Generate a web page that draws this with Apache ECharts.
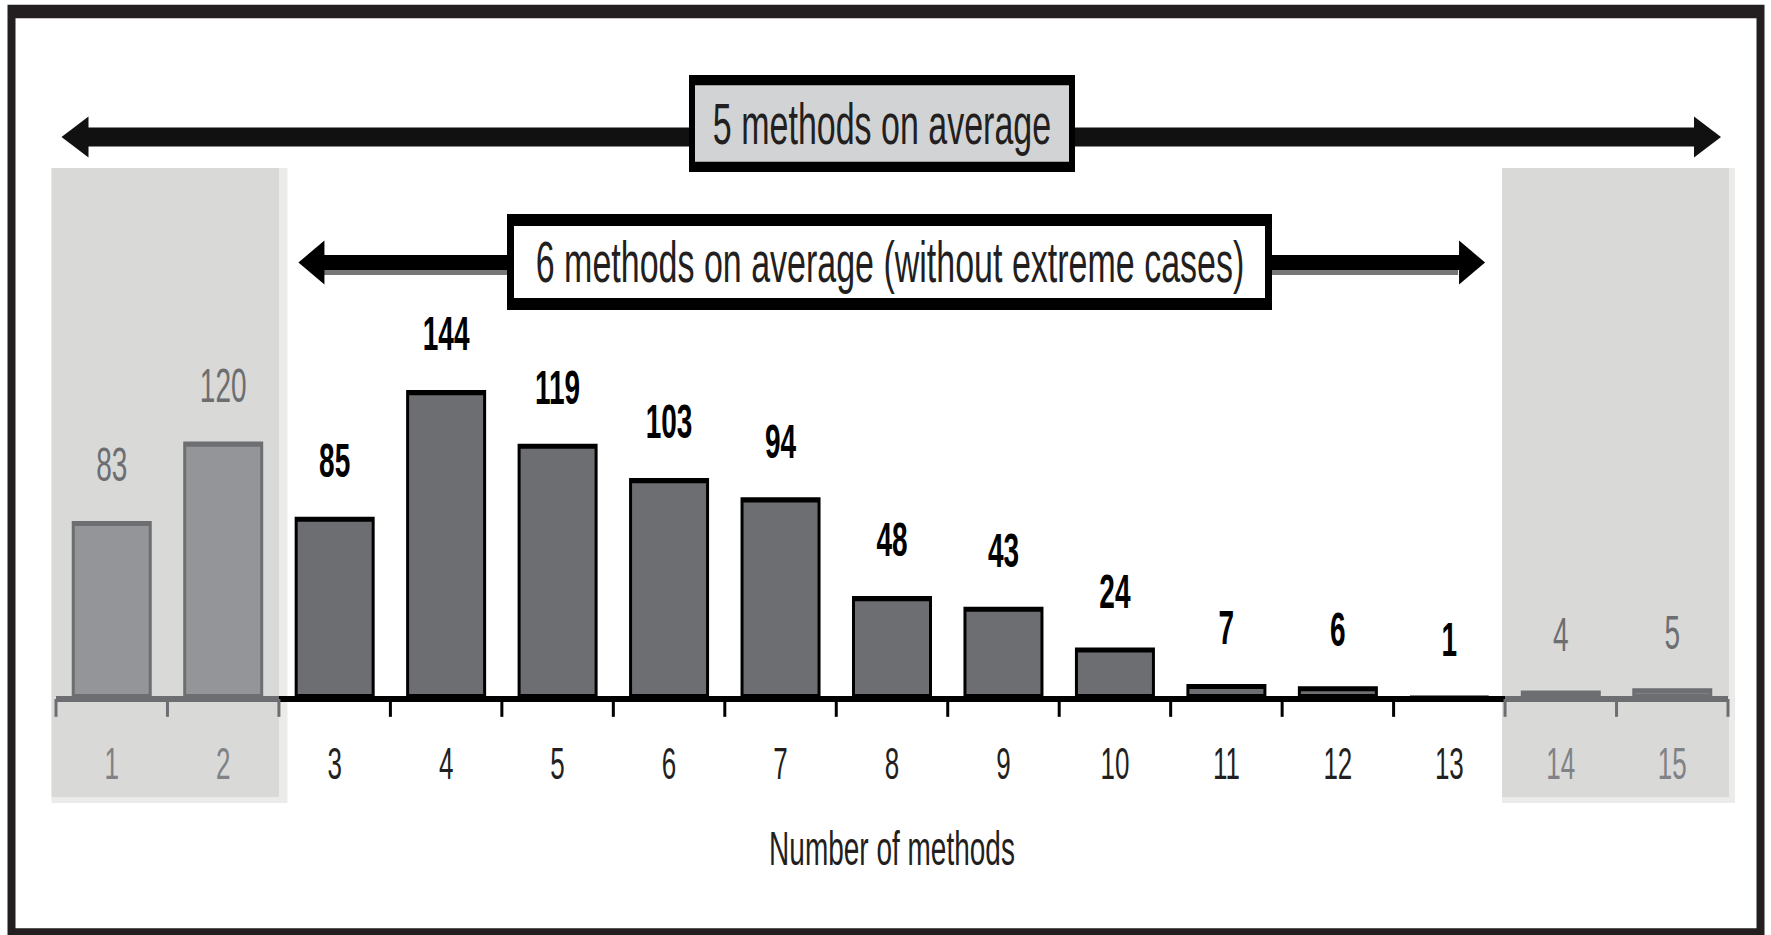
<!DOCTYPE html>
<html>
<head>
<meta charset="utf-8">
<script src="https://cdn.jsdelivr.net/npm/echarts@6/dist/echarts.min.js"></script>
<style>
html,body{margin:0;padding:0;background:#fff;overflow:hidden;}
#wrap{width:1771px;height:935px;overflow:hidden;position:relative;background:#fff;}
#chart{width:1771px;height:550px;transform:scaleY(1.7);transform-origin:0 0;}
</style>
</head>
<body>
<div id="wrap"><div id="chart"></div></div>
<script>
// ---- data ----
const categories = ['1','2','3','4','5','6','7','8','9','10','11','12','13','14','15'];
const counts = [83,120,85,144,119,103,94,48,43,24,7,6,1,4,5];
const extremeCategories = ['1','2','14','15'];
const annotationAll = '5 methods on average';
const annotationTrimmed = '6 methods on average (without extreme cases)';
const axisTitle = 'Number of methods';

// ---- layout ----
const S = 1.7;              // vertical stretch of the whole picture
const W = 1771, H = 935 / S;
const Y = v => v / S;       // page y -> chart y
const font = "'Liberation Sans', Arial, sans-serif";
const isExtreme = c => extremeCategories.indexOf(c) >= 0;

const chart = echarts.init(document.getElementById('chart'), null, {renderer: 'svg', width: W, height: H});

const seriesData = counts.map((v, i) => {
  const ext = isExtreme(categories[i]);
  return {
    value: v,
    itemStyle: ext ? {color: '#939598', borderColor: '#6d6e71'} : {color: '#6d6e71', borderColor: '#000'},
    label: {color: ext ? '#6d6e71' : '#000', fontWeight: ext ? 'normal' : 'bold'}
  };
});

chart.setOption({
  animation: false,
  backgroundColor: 'transparent',
  grid: {left: 56, right: 43, top: Y(270), bottom: H - Y(699), containLabel: false},
  xAxis: {
    type: 'category',
    data: categories,
    boundaryGap: true,
    axisLine: {show: false},
    axisTick: {show: false},
    axisLabel: {
      margin: 25, fontSize: 26, fontFamily: font,
      color: (val) => isExtreme(val) ? '#808285' : '#231f20'
    },
    name: axisTitle,
    nameLocation: 'middle',
    nameGap: 74,
    nameTextStyle: {fontSize: 28, fontFamily: font, color: '#231f20'}
  },
  yAxis: {type: 'value', min: 0, max: 200, show: false},
  series: [{
    type: 'bar',
    data: seriesData,
    barWidth: 80,
    z: 3,
    itemStyle: {borderWidth: 3},
    label: {show: true, position: 'top', distance: 19, fontSize: 28, fontFamily: font}
  }]
});

// ---- decorations positioned from the axis scale ----
const px = c => chart.convertToPixel({xAxisIndex: 0}, c);
const c0 = px(categories[0]);
const bw = px(categories[1]) - c0;
const edge = k => c0 - bw / 2 + k * bw;
const axisY = chart.convertToPixel({yAxisIndex: 0}, 0);
const n = categories.length;
const extIdx = categories.map((c, i) => isExtreme(c) ? i : -1).filter(i => i >= 0);
const leftEnd = Math.max(...extIdx.filter(i => i < n / 2)) + 1;   // edge index
const rightStart = Math.min(...extIdx.filter(i => i > n / 2));     // edge index

const G = [];
const bandTop = Y(168), bandBot = Y(803), bandBotInner = Y(797);
// bands (light rim + grey)
G.push({type: 'rect', z: 0, shape: {x: edge(0) - 4.5, y: bandTop, width: edge(leftEnd) + 8.5 - edge(0) + 4.5, height: bandBot - bandTop}, style: {fill: '#ebebea'}});
G.push({type: 'rect', z: 0, shape: {x: edge(0) - 4.5, y: bandTop, width: edge(leftEnd) - edge(0) + 4.5, height: bandBotInner - bandTop}, style: {fill: '#d9d9d8'}});
G.push({type: 'rect', z: 0, shape: {x: edge(rightStart) - 3, y: bandTop, width: edge(n) + 7 - edge(rightStart) + 3, height: bandBot - bandTop}, style: {fill: '#ebebea'}});
G.push({type: 'rect', z: 0, shape: {x: edge(rightStart) - 3, y: bandTop, width: edge(n) + 1 - edge(rightStart) + 3, height: bandBotInner - bandTop}, style: {fill: '#d9d9d8'}});

// axis line segments
const grey = '#6d6e71';
G.push({type: 'line', z: 10, shape: {x1: edge(0), y1: axisY, x2: edge(leftEnd), y2: axisY}, style: {stroke: grey, lineWidth: 3.5}});
G.push({type: 'line', z: 10, shape: {x1: edge(leftEnd), y1: axisY, x2: edge(rightStart), y2: axisY}, style: {stroke: '#000', lineWidth: 3.5}});
G.push({type: 'line', z: 10, shape: {x1: edge(rightStart), y1: axisY, x2: edge(n), y2: axisY}, style: {stroke: grey, lineWidth: 3.5}});
for (let k = 0; k <= n; k++) {
  const g = (k <= leftEnd || k >= rightStart);
  G.push({type: 'line', z: 10, shape: {x1: edge(k), y1: axisY, x2: edge(k), y2: axisY + 10.5}, style: {stroke: g ? grey : '#000', lineWidth: 3}});
}

// arrows
function arrow(xl, xr, yc, shaft, headLen, headHalf, color) {
  G.push({type: 'line', z: 10, shape: {x1: xl + headLen - 2, y1: yc, x2: xr - headLen + 2, y2: yc}, style: {stroke: color, lineWidth: shaft}});
  G.push({type: 'polygon', z: 10, shape: {points: [[xl, yc], [xl + headLen, yc - headHalf], [xl + headLen, yc + headHalf]]}, style: {fill: color}});
  G.push({type: 'polygon', z: 10, shape: {points: [[xr, yc], [xr - headLen, yc - headHalf], [xr - headLen, yc + headHalf]]}, style: {fill: color}});
}
// top arrow spans the whole axis
arrow(edge(0) + 5.5, edge(n) - 7, Y(137), Y(19), 27, Y(20.5), '#111');
// lower arrow spans the non-extreme categories, with grey shadow
G.push({type: 'rect', z: 10, shape: {x: edge(leftEnd) + 45, y: Y(269), width: edge(rightStart) - 47 - edge(leftEnd) - 45, height: Y(6)}, style: {fill: '#777'}});
arrow(edge(leftEnd) + 19.5, edge(rightStart) - 20, Y(262.5), Y(15), 26, Y(22), '#000');

// annotation boxes
G.push({type: 'rect', z: 20, shape: {x: 692, y: Y(75) + 3, width: 380, height: Y(172) - Y(75) - 6}, style: {fill: '#d1d3d4', stroke: '#000', lineWidth: 6}});
G.push({type: 'text', z: 21, x: 882, y: Y(123.5), style: {text: annotationAll, font: '34px ' + font, fill: '#231f20', align: 'center', verticalAlign: 'middle'}});
G.push({type: 'rect', z: 20, shape: {x: 510.5, y: Y(214) + 3.5, width: 758, height: Y(310) - Y(214) - 7}, style: {fill: '#fff', stroke: '#000', lineWidth: 7}});
G.push({type: 'text', z: 21, x: 890, y: Y(262), style: {text: annotationTrimmed, font: '34px ' + font, fill: '#231f20', align: 'center', verticalAlign: 'middle'}});

// outer frame
G.push({type: 'rect', z: 30, shape: {x: 11.5, y: Y(11.5), width: 1749, height: H - Y(11.5)}, style: {fill: 'none', stroke: '#231f20', lineWidth: 8}});

chart.setOption({graphic: {elements: G}});
</script>
</body>
</html>
